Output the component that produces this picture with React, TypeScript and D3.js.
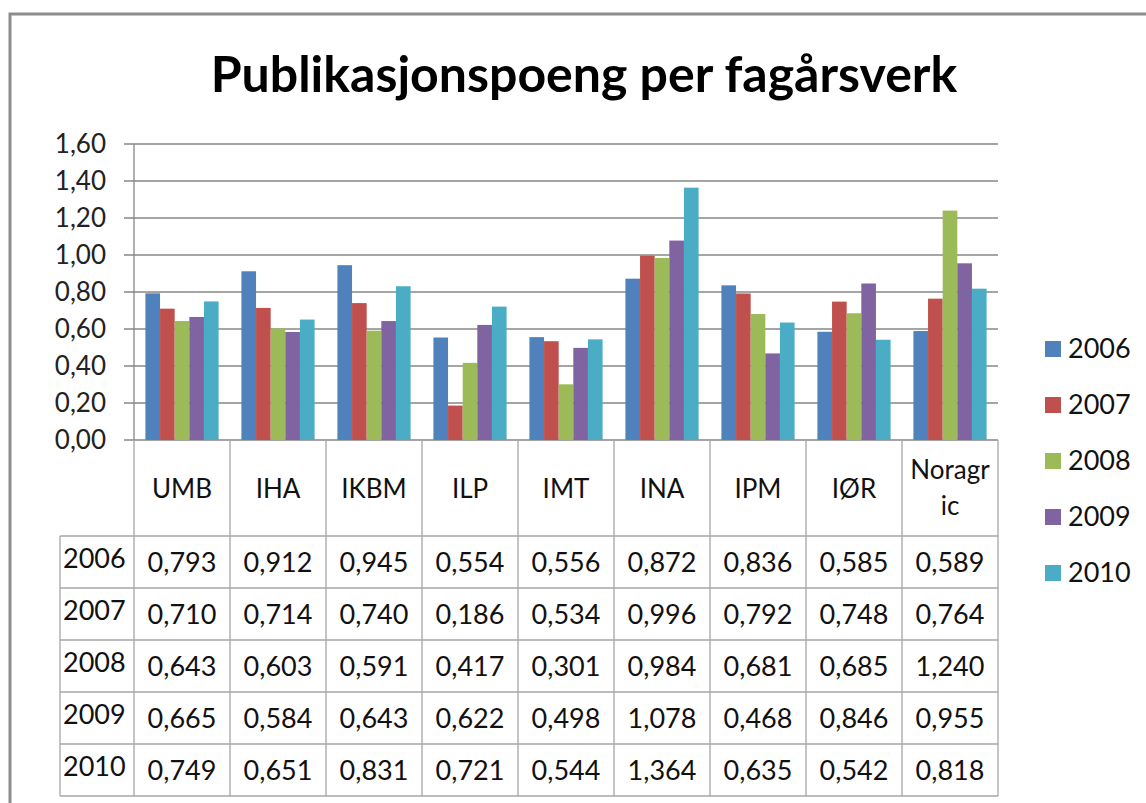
import React from "react";
import * as d3 from "d3";

const categories = ["UMB", "IHA", "IKBM", "ILP", "IMT", "INA", "IPM", "IØR", "Noragric"];
const categoryLines = [["UMB"], ["IHA"], ["IKBM"], ["ILP"], ["IMT"], ["INA"], ["IPM"], ["IØR"], ["Noragr", "ic"]];
const years = ["2006", "2007", "2008", "2009", "2010"];
const v2006 = [0.793, 0.912, 0.945, 0.554, 0.556, 0.872, 0.836, 0.585, 0.589];
const v2007 = [0.710, 0.714, 0.740, 0.186, 0.534, 0.996, 0.792, 0.748, 0.764];
const v2008 = [0.643, 0.603, 0.591, 0.417, 0.301, 0.984, 0.681, 0.685, 1.240];
const v2009 = [0.665, 0.584, 0.643, 0.622, 0.498, 1.078, 0.468, 0.846, 0.955];
const v2010 = [0.749, 0.651, 0.831, 0.721, 0.544, 1.364, 0.635, 0.542, 0.818];
const yTicks = [0, 0.2, 0.4, 0.6, 0.8, 1.0, 1.2, 1.4, 1.6];
const colors = ["#4F81BD", "#C0504D", "#9BBB59", "#8064A2", "#4BACC6"];

const series = [v2006, v2007, v2008, v2009, v2010];
const FONT = "Lato, 'Open Sans', sans-serif";

export default function App() {
  const W = 1146, H = 803;
  const left = 134, right = 998, top = 144, bottom = 440;
  const headerH = 96, rowH = 52, labelLeft = 60;

  const x = d3.scaleBand<string>().domain(categories).range([left, right]).paddingInner(0).paddingOuter(0);
  const xi = d3.scaleBand<string>().domain(years).range([0, x.bandwidth()]).paddingOuter(0.78).paddingInner(0);
  const y = d3.scaleLinear().domain([0, 1.6]).range([bottom, top]);
  const fmt = (v: number, p: number) => d3.format(`.${p}f`)(v).replace(".", ",");

  const tableTop = bottom + headerH;
  const tableBottom = tableTop + rowH * years.length;
  const grid = "#878787";
  const tbl = "#A6A6A6";

  return (
    <svg width={W} height={H} style={{ position: "absolute", left: 0, top: 0, background: "#fff" }} fontFamily={FONT}>
      <rect x={10} y={14} width={W + 10} height={H + 10} fill="#fff" stroke="#8C8C8C" strokeWidth={3} />
      <text x={584} y={92} textAnchor="middle" fontSize={50} fontWeight="bold" fill="#000">
        Publikasjonspoeng per fagårsverk
      </text>

      {/* gridlines and y ticks */}
      {yTicks.map((t) => (
        <g key={t}>
          <line x1={124} x2={right} y1={y(t)} y2={y(t)} stroke={grid} strokeWidth={1.3} />
          <text x={106} y={y(t)} dy="0.35em" textAnchor="end" fontSize={26} fill="#222">
            {fmt(t, 2)}
          </text>
        </g>
      ))}
      <line x1={left} x2={left} y1={top} y2={bottom} stroke={grid} strokeWidth={1.3} />

      {/* bars */}
      {categories.map((c, ci) => (
        <g key={c} transform={`translate(${x(c)},0)`}>
          {years.map((yr, si) => {
            const v = series[si][ci];
            return (
              <rect key={yr} x={xi(yr)} y={y(v)} width={xi.bandwidth()} height={bottom - y(v)} fill={colors[si]} />
            );
          })}
        </g>
      ))}

      {/* data table */}
      <g stroke={tbl} strokeWidth={1.3}>
        {categories.map((c) => (
          <line key={c} x1={x(c)} x2={x(c)} y1={bottom} y2={tableBottom} />
        ))}
        <line x1={right} x2={right} y1={bottom} y2={tableBottom} />
        <line x1={labelLeft} x2={labelLeft} y1={tableTop} y2={tableBottom} />
        {d3.range(years.length + 1).map((i) => (
          <line key={i} x1={labelLeft} x2={right} y1={tableTop + i * rowH} y2={tableTop + i * rowH} />
        ))}
      </g>
      {categories.map((c, ci) => {
        const lines = categoryLines[ci];
        const cx = (x(c) as number) + x.bandwidth() / 2;
        const startY = lines.length === 1 ? bottom + 58 : bottom + 39;
        return (
          <text key={c} x={cx} textAnchor="middle" fontSize={26} fill="#111">
            {lines.map((l, li) => (
              <tspan key={li} x={cx} y={startY + li * 36}>{l}</tspan>
            ))}
          </text>
        );
      })}
      {years.map((yr, si) => (
        <g key={yr}>
          <text x={labelLeft + 3} y={tableTop + si * rowH + 32} fontSize={27} fill="#111">{yr}</text>
          {categories.map((c, ci) => (
            <text key={c} x={(x(c) as number) + x.bandwidth() / 2} y={tableTop + si * rowH + 36} textAnchor="middle" fontSize={27} fill="#111">
              {fmt(series[si][ci], 3)}
            </text>
          ))}
        </g>
      ))}

      {/* legend */}
      {years.map((yr, si) => (
        <g key={yr} transform={`translate(1045,${349 + si * 56})`}>
          <rect x={0} y={-8} width={16} height={16} fill={colors[si]} />
          <text x={23} y={0} dy="0.35em" fontSize={27} fill="#111">{yr}</text>
        </g>
      ))}
    </svg>
  );
}
